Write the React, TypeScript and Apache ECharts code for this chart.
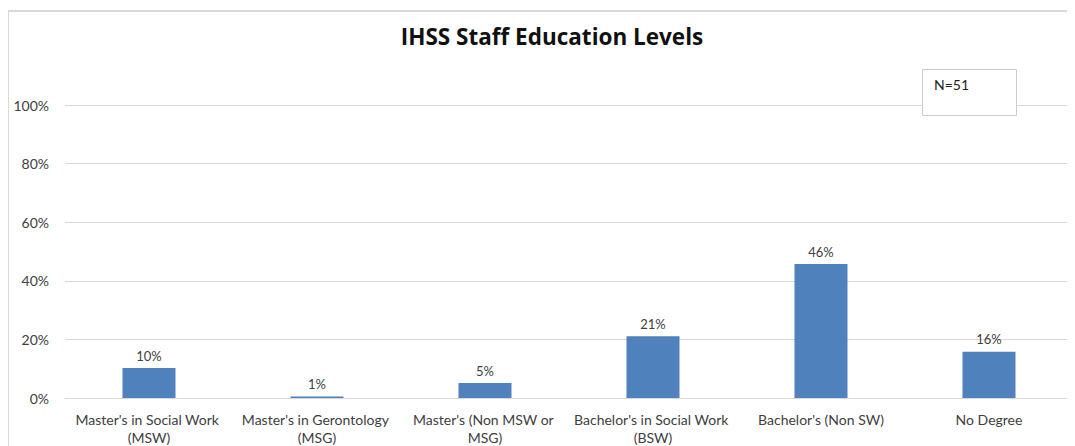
import React, { useEffect, useRef } from "react";
import * as echarts from "echarts";

const categories = [
  "Master's in Social Work (MSW)",
  "Master's in Gerontology (MSG)",
  "Master's (Non MSW or MSG)",
  "Bachelor's in Social Work (BSW)",
  "Bachelor's (Non SW)",
  "No Degree",
];
const values = [10.2, 0.5, 5.1, 21.1, 45.7, 15.8];
const yTicks = [0, 20, 40, 60, 80, 100];
const titleText = "IHSS Staff Education Levels";
const noteText = "N=51";

const FONT = "Lato, 'Open Sans', sans-serif";

export default function App() {
  const ref = useRef<HTMLDivElement>(null);
  useEffect(() => {
    document.body.style.marginBottom = "0px";
    document.documentElement.style.overflow = "hidden";
    if (!ref.current) return;
    const chart = echarts.init(ref.current, null, { renderer: "svg" });
    chart.setOption({
      animation: false,
      backgroundColor: "#ffffff",
      textStyle: { fontFamily: FONT },
      title: {
        text: titleText,
        left: 539,
        top: 12,
        textAlign: "center",
        textStyle: { fontSize: 22.5, fontWeight: "bold", color: "#111", fontFamily: "'Open Sans', sans-serif" },
      },
      graphic: [
        {
          type: "rect",
          shape: { x: 0, y: 3, width: 1200, height: 600 },
          style: { fill: "none", stroke: "#d9d9d9", lineWidth: 2 },
          z: -1,
          silent: true,
        },
        {
          type: "rect",
          shape: { x: 914.5, y: 61.5, width: 94, height: 46 },
          style: { fill: "#ffffff", stroke: "#cccccc", lineWidth: 1 },
          z: 10,
        },
        {
          type: "text",
          x: 926,
          y: 76,
          style: {
            text: noteText,
            fill: "#222",
            fontSize: 14,
            fontFamily: FONT,
            verticalAlign: "middle",
          },
          z: 11,
        },
      ],
      grid: { left: 57, right: 2, top: 97, bottom: 43, containLabel: false },
      xAxis: {
        type: "category",
        data: categories,
        axisLine: { show: true, lineStyle: { color: "#d9d9d9", width: 1 } },
        axisTick: { show: false },
        axisLabel: {
          interval: 0,
          color: "#404040",
          fontSize: 14,
          fontFamily: FONT,
          width: 164,
          overflow: "break",
          lineHeight: 18,
          margin: 12,
        },
      },
      yAxis: {
        type: "value",
        min: yTicks[0],
        max: yTicks[yTicks.length - 1],
        interval: yTicks[1] - yTicks[0],
        axisLine: { show: false },
        axisTick: { show: false },
        splitLine: { lineStyle: { color: "#d9d9d9", width: 1 } },
        axisLabel: {
          formatter: (v: number) => v + "%",
          color: "#404040",
          fontSize: 14,
          fontFamily: FONT,
          margin: 16,
        },
      },
      series: [
        {
          type: "bar",
          data: values,
          barWidth: 53,
          itemStyle: { color: "#4F81BD" },
          label: {
            show: true,
            position: "top",
            distance: 6,
            formatter: (p: any) => Math.round(p.value) + "%",
            color: "#404040",
            fontSize: 13,
            fontFamily: FONT,
          },
        },
      ],
    });
    return () => chart.dispose();
  }, []);
  return <div ref={ref} style={{ width: 1067, height: 438 }} />;
}
